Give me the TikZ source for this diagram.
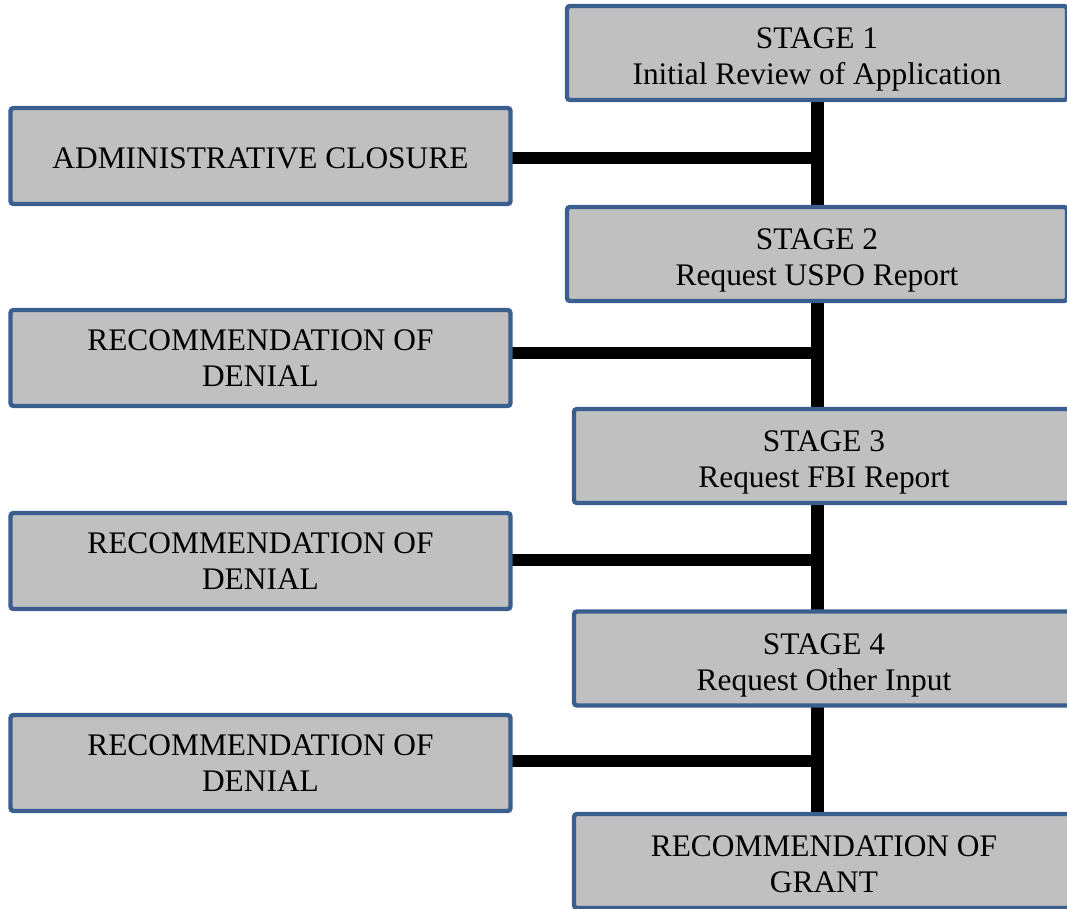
\documentclass[tikz,border=0pt]{standalone}
\usepackage{fontspec}
\setmainfont{Liberation Serif}
\pgfdeclarelayer{background}
\pgfsetlayers{background,main}
\definecolor{boxgray}{HTML}{C0C0C0}
\definecolor{boxblue}{HTML}{3A5F8F}
\newcommand{\toppad}[1]{\rule{0pt}{#1}}
\tikzset{
  stagebox/.style={draw=boxblue, fill=boxgray, line width=2.2pt,
    rounded corners=1.5pt, align=center, minimum width=250pt,
    minimum height=47pt, font=\fontsize{15.7}{18}\selectfont},
  link/.style={draw=black, line width=6.3pt, line cap=butt},
}
\begin{document}
\begin{tikzpicture}[y=0.5pt, x=0.5pt, yscale=-1, inner sep=0pt, outer sep=0pt]
\useasboundingbox (0,0) rectangle (1067,909);
% stages on the right
\node[stagebox] (stageA) at (817,53) {\toppad{17pt}STAGE 1\\Initial Review of Application};
\node[stagebox] (stageB) at (817,254) {\toppad{17pt}STAGE 2\\Request USPO Report};
\node[stagebox] (stageC) at (824,456) {\toppad{17pt}STAGE 3\\Request FBI Report};
\node[stagebox] (stageD) at (824,658.5) {\toppad{17pt}STAGE 4\\Request Other Input};
\node[stagebox] (grant) at (824,861) {\toppad{14pt}RECOMMENDATION OF\\GRANT};
% outcomes on the left
\node[stagebox, minimum height=48pt] (closure) at (260.5,156) {\toppad{13pt}ADMINISTRATIVE CLOSURE};
\node[stagebox, minimum height=48pt] (denialA) at (260.5,358) {RECOMMENDATION OF\\DENIAL};
\node[stagebox, minimum height=48pt] (denialB) at (260.5,561) {RECOMMENDATION OF\\DENIAL};
\node[stagebox, minimum height=48pt] (denialC) at (260.5,763) {RECOMMENDATION OF\\DENIAL};
% junctions on the trunk
\coordinate (jA) at (817.5,158);
\coordinate (jB) at (817.5,353);
\coordinate (jC) at (817.5,560.5);
\coordinate (jD) at (817.5,760.5);
\begin{pgfonlayer}{background}
\path[link] (jA |- stageA.south) -- (jA |- stageB.north);
\path[link] (jB |- stageB.south) -- (jB |- stageC.north);
\path[link] (jC |- stageC.south) -- (jC |- stageD.north);
\path[link] (jD |- stageD.south) -- (jD |- grant.north);
\path[link, line width=6pt] (jA) -- (jA -| closure.east);
\path[link, line width=6pt] (jB) -- (jB -| denialA.east);
\path[link, line width=6pt] (jC) -- (jC -| denialB.east);
\path[link, line width=6pt] (jD) -- (jD -| denialC.east);
\end{pgfonlayer}
\end{tikzpicture}
\end{document}
